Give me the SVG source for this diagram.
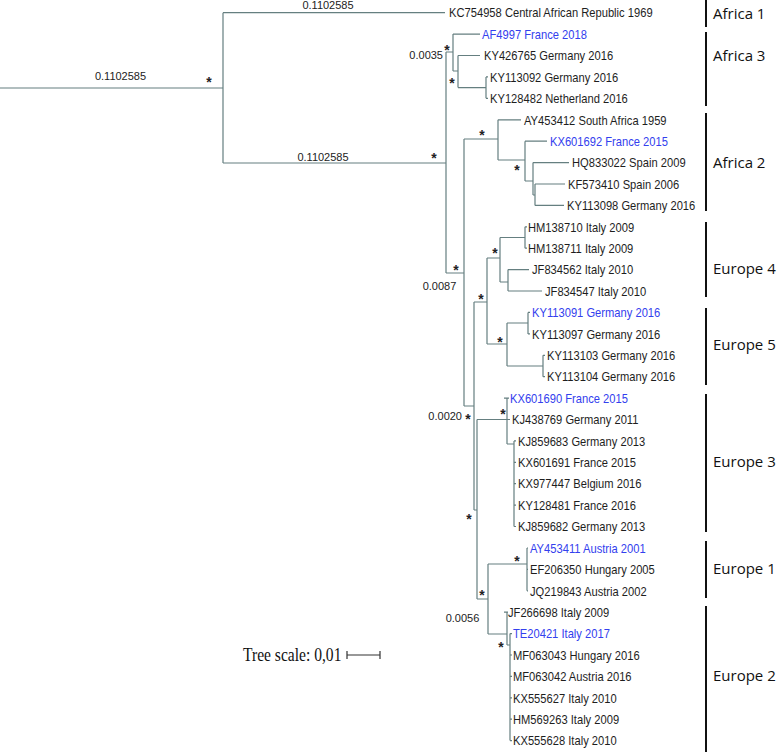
<svg xmlns="http://www.w3.org/2000/svg" width="778" height="752" viewBox="0 0 778 752">
<style>
.br{fill:none;stroke:#657f80;stroke-width:1.2}
.lf{font-family:"Liberation Sans",Arial,sans-serif;font-size:13px;fill:#1e1e1e}
.bl{fill:#3340ee}
.num{font-family:"Liberation Sans",Arial,sans-serif;font-size:11px;fill:#222}
.st{font-family:"Liberation Sans",Arial,sans-serif;font-size:14px;font-weight:bold;fill:#222;text-anchor:middle}
.cl{font-family:"Open Sans","Liberation Sans",sans-serif;font-size:15px;fill:#111}
.bar{stroke:#111;stroke-width:2}
.ts{font-family:"Liberation Serif","Times New Roman",serif;font-size:19px;fill:#111}
</style>
<rect width="778" height="752" fill="#fff"/>
<g id="connectors">
<path class="br" d="M0 88H223M223 12.7V163M223 12.7H445M223 163H446
M446 52V273M446 52H453
M453 34.1V71M453 34.1H480M453 71H458
M458 55.5V87.6M458 55.5H480M458 87.6H486
M486 76.9V98.3M486 76.9H488M486 98.3H488
M446 273H464M464 139V406
M464 139H498M498 119.8V160M498 119.8H521M498 160H525
M525 141.2V181M525 141.2H547M525 181H533
M533 162.6V195M533 162.6H569M533 195H535
M535 184V205.4M535 184H565M535 205.4H564
M464 406H474M474 302V510
M474 302H487M487 258V344
M487 258H500M500 237.5V282M500 237.5H525M525 226.8V248.2M525 226.8H527M525 248.2H527
M500 282H508M508 269.6V291M508 269.6H529M508 291H542
M487 344H507M507 323V366M507 323H528M528 312.4V333.9M528 312.4H530M528 333.9H530
M507 366H543M543 355.3V376.7M543 355.3H545M543 376.7H545
M474 510H477M477 419.5V599
M477 419.5H510M507 398.1V444M504 398.1H509M507 444H514
M514 440.9V526.5M514 440.9H516M514 462.3H516M514 483.7H516M514 505.1H516M514 526.5H516
M477 599H488M488 564V634
M488 564H527M527 548V590.8M527 548H528M527 569.4H528M527 590.8H528
M488 634H507M507 612.2V645M504 612.2H508M507 645H510
M510 633.6V740.6M510 633.6H512M510 655H512M510 676.4H512M510 697.8H512M510 719.2H512M510 740.6H512"/>
</g>
<g id="support">
<text class="num" x="120.5" y="80" text-anchor="middle">0.1102585</text>
<text class="num" x="328" y="8.5" text-anchor="middle">0.1102585</text>
<text class="num" x="323" y="161" text-anchor="middle">0.1102585</text>
<text class="num" x="443" y="59" text-anchor="end">0.0035</text>
<text class="num" x="439.5" y="290" text-anchor="middle">0.0087</text>
<text class="num" x="462" y="420" text-anchor="end">0.0020</text>
<text class="num" x="462.5" y="622" text-anchor="middle">0.0056</text>
<text class="st" x="209" y="87">*</text>
<text class="st" x="434" y="163">*</text>
<text class="st" x="447" y="55">*</text>
<text class="st" x="452" y="88">*</text>
<text class="st" x="482" y="140">*</text>
<text class="st" x="517" y="175">*</text>
<text class="st" x="456" y="275">*</text>
<text class="st" x="495" y="258">*</text>
<text class="st" x="481" y="304">*</text>
<text class="st" x="500" y="347">*</text>
<text class="st" x="468" y="424">*</text>
<text class="st" x="503" y="419">*</text>
<text class="st" x="469" y="524">*</text>
<text class="st" x="517" y="566">*</text>
<text class="st" x="482" y="600">*</text>
<text class="st" x="501" y="652">*</text>
</g>
<g id="leaves">
<g id="n1"><text class="lf" transform="translate(449 17.4) scale(.86 1)">KC754958 Central African Republic 1969</text></g>
<g id="n2"><text class="lf bl" transform="translate(482 38.8) scale(.86 1)">AF4997 France 2018</text></g>
<g id="n3"><text class="lf" transform="translate(484 60.2) scale(.86 1)">KY426765 Germany 2016</text></g>
<g id="n4"><text class="lf" transform="translate(490 81.6) scale(.86 1)">KY113092 Germany 2016</text></g>
<g id="n5"><text class="lf" transform="translate(490 103) scale(.86 1)">KY128482 Netherland 2016</text></g>
<g id="n6"><text class="lf" transform="translate(524 124.5) scale(.86 1)">AY453412 South Africa 1959</text></g>
<g id="n7"><text class="lf bl" transform="translate(550 145.9) scale(.86 1)">KX601692 France 2015</text></g>
<g id="n8"><text class="lf" transform="translate(572 167.3) scale(.86 1)">HQ833022 Spain 2009</text></g>
<g id="n9"><text class="lf" transform="translate(568 188.7) scale(.86 1)">KF573410 Spain 2006</text></g>
<g id="n10"><text class="lf" transform="translate(567 210.1) scale(.86 1)">KY113098 Germany 2016</text></g>
<g id="n11"><text class="lf" transform="translate(528 231.5) scale(.86 1)">HM138710 Italy 2009</text></g>
<g id="n12"><text class="lf" transform="translate(528 252.9) scale(.86 1)">HM138711 Italy 2009</text></g>
<g id="n13"><text class="lf" transform="translate(532 274.3) scale(.86 1)">JF834562 Italy 2010</text></g>
<g id="n14"><text class="lf" transform="translate(545 295.7) scale(.86 1)">JF834547 Italy 2010</text></g>
<g id="n15"><text class="lf bl" transform="translate(532 317.1) scale(.86 1)">KY113091 Germany 2016</text></g>
<g id="n16"><text class="lf" transform="translate(532 338.6) scale(.86 1)">KY113097 Germany 2016</text></g>
<g id="n17"><text class="lf" transform="translate(547 360) scale(.86 1)">KY113103 Germany 2016</text></g>
<g id="n18"><text class="lf" transform="translate(547 381.4) scale(.86 1)">KY113104 Germany 2016</text></g>
<g id="n19"><text class="lf bl" transform="translate(510 402.8) scale(.86 1)">KX601690 France 2015</text></g>
<g id="n20"><text class="lf" transform="translate(512 424.2) scale(.86 1)">KJ438769 Germany 2011</text></g>
<g id="n21"><text class="lf" transform="translate(518 445.6) scale(.86 1)">KJ859683 Germany 2013</text></g>
<g id="n22"><text class="lf" transform="translate(518 467) scale(.86 1)">KX601691 France 2015</text></g>
<g id="n23"><text class="lf" transform="translate(518 488.4) scale(.86 1)">KX977447 Belgium 2016</text></g>
<g id="n24"><text class="lf" transform="translate(518 509.8) scale(.86 1)">KY128481 France 2016</text></g>
<g id="n25"><text class="lf" transform="translate(518 531.2) scale(.86 1)">KJ859682 Germany 2013</text></g>
<g id="n26"><text class="lf bl" transform="translate(530 552.7) scale(.86 1)">AY453411 Austria 2001</text></g>
<g id="n27"><text class="lf" transform="translate(530 574.1) scale(.86 1)">EF206350 Hungary 2005</text></g>
<g id="n28"><text class="lf" transform="translate(530 595.5) scale(.86 1)">JQ219843 Austria 2002</text></g>
<g id="n29"><text class="lf" transform="translate(508 616.9) scale(.86 1)">JF266698 Italy 2009</text></g>
<g id="n30"><text class="lf bl" transform="translate(513 638.3) scale(.86 1)">TE20421 Italy 2017</text></g>
<g id="n31"><text class="lf" transform="translate(513 659.7) scale(.86 1)">MF063043 Hungary 2016</text></g>
<g id="n32"><text class="lf" transform="translate(513 681.1) scale(.86 1)">MF063042 Austria 2016</text></g>
<g id="n33"><text class="lf" transform="translate(513 702.5) scale(.86 1)">KX555627 Italy 2010</text></g>
<g id="n34"><text class="lf" transform="translate(513 723.9) scale(.86 1)">HM569263 Italy 2009</text></g>
<g id="n35"><text class="lf" transform="translate(513 745.3) scale(.86 1)">KX555628 Italy 2010</text></g>
</g>
<g id="clades">
<g id="c-africa1"><line class="bar" x1="706" y1="0" x2="706" y2="27"/><text class="cl" x="713" y="19">Africa 1</text></g>
<g id="c-africa3"><line class="bar" x1="706" y1="32" x2="706" y2="106"/><text class="cl" x="713" y="61">Africa 3</text></g>
<g id="c-africa2"><line class="bar" x1="706" y1="113" x2="706" y2="211"/><text class="cl" x="713" y="168">Africa 2</text></g>
<g id="c-europe4"><line class="bar" x1="706" y1="222" x2="706" y2="297"/><text class="cl" x="713" y="274">Europe 4</text></g>
<g id="c-europe5"><line class="bar" x1="706" y1="308" x2="706" y2="385"/><text class="cl" x="713" y="350">Europe 5</text></g>
<g id="c-europe3"><line class="bar" x1="706" y1="394" x2="706" y2="532"/><text class="cl" x="713" y="467">Europe 3</text></g>
<g id="c-europe1"><line class="bar" x1="706" y1="541" x2="706" y2="598"/><text class="cl" x="713" y="574">Europe 1</text></g>
<g id="c-europe2"><line class="bar" x1="706" y1="606" x2="706" y2="752"/><text class="cl" x="713" y="681">Europe 2</text></g>
</g>
<g id="scale">
<text class="ts" transform="translate(243 661) scale(.82 1)">Tree scale: 0,01</text>
<path class="br" stroke="#333" d="M347 655H380M347 651V659M380 651V659" style="stroke:#333"/>
</g>
</svg>
